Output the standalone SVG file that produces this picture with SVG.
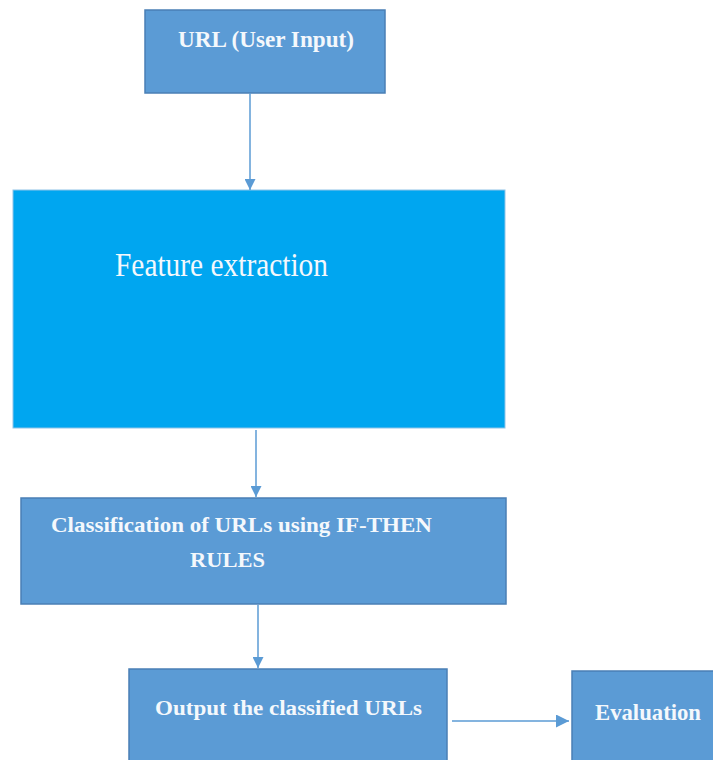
<svg xmlns="http://www.w3.org/2000/svg" width="713" height="760" viewBox="0 0 713 760">
<defs>
<style>
.box{fill:#5B9BD5;stroke:#4A7FB5;stroke-width:1.5}
.fe{fill:#00A6F0;stroke:#8FC4E8;stroke-width:1}
.lbl{font-family:"Liberation Serif","Times New Roman",serif;fill:#F4F8FC;font-weight:bold}
.conn{stroke:#5B9BD5;stroke-width:1.5;fill:none}
</style>
<marker id="ah" viewBox="0 0 10 10" refX="10" refY="5" markerWidth="11" markerHeight="11" markerUnits="userSpaceOnUse" orient="auto">
<path d="M0,0 L10,5 L0,10 z" fill="#5B9BD5"/>
</marker>
<marker id="ah2" viewBox="0 0 10 10" refX="10" refY="5" markerWidth="13" markerHeight="13" markerUnits="userSpaceOnUse" orient="auto">
<path d="M0,0 L10,5 L0,10 z" fill="#5B9BD5"/>
</marker>
</defs>
<rect width="713" height="760" fill="#FFFFFF"/>
<g id="url-input">
<rect class="box" x="145" y="10" width="240" height="83"/>
<text class="lbl" x="178" y="47" font-size="24" textLength="176" lengthAdjust="spacingAndGlyphs">URL (User Input)</text>
</g>
<g id="feature-extraction">
<rect class="fe" x="13" y="190" width="492" height="238"/>
<text x="115" y="276" font-family="Liberation Serif, Times New Roman, serif" font-size="33" fill="#F4F8FC" textLength="213" lengthAdjust="spacingAndGlyphs">Feature extraction</text>
</g>
<g id="classification">
<rect class="box" x="21" y="498" width="485" height="106"/>
<text class="lbl" x="51" y="532" font-size="22" textLength="381" lengthAdjust="spacingAndGlyphs">Classification of URLs using IF-THEN</text>
<text class="lbl" x="190" y="567" font-size="22" textLength="75" lengthAdjust="spacingAndGlyphs">RULES</text>
</g>
<g id="output">
<rect class="box" x="129" y="669" width="318" height="100"/>
<text class="lbl" x="155" y="715" font-size="22" textLength="267" lengthAdjust="spacingAndGlyphs">Output the classified URLs</text>
</g>
<g id="evaluation">
<rect class="box" x="572" y="671" width="150" height="100"/>
<text class="lbl" x="595" y="720" font-size="23" textLength="106" lengthAdjust="spacingAndGlyphs">Evaluation</text>
</g>
<g id="connectors">
<line class="conn" x1="250" y1="93" x2="250" y2="190" marker-end="url(#ah)"/>
<line class="conn" x1="256" y1="430" x2="256" y2="497" marker-end="url(#ah)"/>
<line class="conn" x1="258" y1="605" x2="258" y2="668" marker-end="url(#ah)"/>
<line class="conn" x1="452" y1="721" x2="569" y2="721" stroke-width="3" marker-end="url(#ah2)"/>
</g>
</svg>
